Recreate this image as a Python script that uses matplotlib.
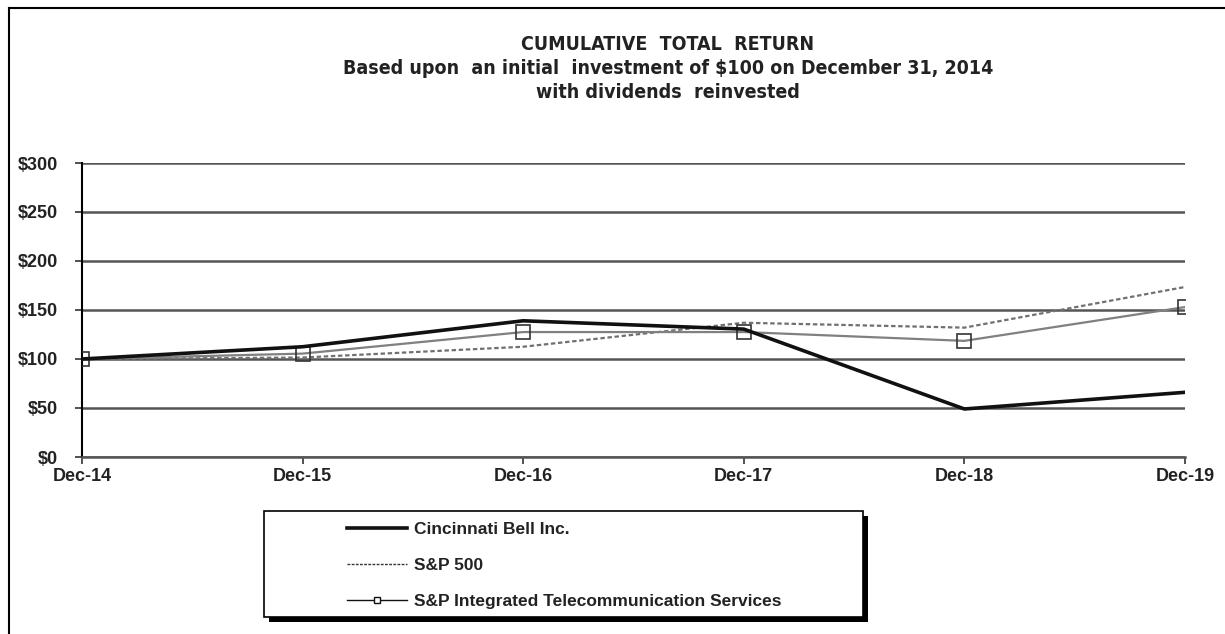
import matplotlib
matplotlib.use("Agg")
import matplotlib.pyplot as plt
from matplotlib.lines import Line2D
from matplotlib.patches import Rectangle

plt.rcParams['font.family'] = ['Liberation Sans', 'DejaVu Sans']

# data
years = ['Dec-14', 'Dec-15', 'Dec-16', 'Dec-17', 'Dec-18', 'Dec-19']
cinci_bell = [100, 112.5, 139, 130.5, 49, 66]
sp500 = [100, 101.5, 112.5, 137, 132, 173.5]
sp_telecom = [100, 105.5, 127.5, 127.5, 118.5, 153]
y_ticks = [0, 50, 100, 150, 200, 250, 300]
y_labels = ['$0', '$50', '$100', '$150', '$200', '$250', '$300']

W, H = 1225, 634
fig = plt.figure(figsize=(W / 100, H / 100), dpi=100)

# outer frame (top and left edges visible in the original)
fig.add_artist(Line2D([9 / W, 1.0], [1 - 8 / H, 1 - 8 / H], color='black', lw=1.5))
fig.add_artist(Line2D([9 / W, 9 / W], [0.0, 1 - 8 / H], color='black', lw=1.5))

ax = fig.add_axes([82 / W, 1 - 457 / H, (1185 - 82) / W, (457 - 163) / H])
x = list(range(len(years)))

ax.plot(x, sp500, color='#707070', lw=1.6, ls=(0, (2, 1.2)), zorder=3)
ax.plot(x, sp_telecom, color='#808080', lw=1.6, marker='s', markersize=10,
        markerfacecolor='none', markeredgecolor='#333333', markeredgewidth=1.2, zorder=4)
ax.plot(x, cinci_bell, color='#111111', lw=2.6, zorder=5)

ax.set_xlim(0, len(years) - 1)
ax.set_ylim(0, 300)
ax.set_xticks(x)
ax.set_xticklabels(years, fontsize=13, fontweight='bold', color='#222222')
ax.set_yticks(y_ticks)
ax.set_yticklabels(y_labels, fontsize=13, fontweight='bold', color='#222222')
ax.tick_params(axis='y', length=5, width=1.2, pad=12, color='#333333')
ax.tick_params(axis='x', length=5, width=1.2, pad=3, color='#333333')
ax.yaxis.grid(True, color='#555555', lw=1.8)
ax.set_axisbelow(True)
for s in ['top', 'right']:
    ax.spines[s].set_visible(False)
ax.spines['left'].set_color('black')
ax.spines['left'].set_linewidth(1.5)
ax.spines['bottom'].set_color('#555555')
ax.spines['bottom'].set_linewidth(1.8)

# title block
title_kw = dict(ha='center', va='center', fontsize=14, fontweight='bold',
                family='DejaVu Sans', fontstretch='condensed', color='#222222')
fig.text(668 / W, 1 - 45 / H, 'CUMULATIVE  TOTAL  RETURN', **title_kw)
fig.text(668 / W, 1 - 69 / H, 'Based upon  an initial  investment of $100 on December 31, 2014', **title_kw)
fig.text(668 / W, 1 - 93 / H, 'with dividends  reinvested', **title_kw)

# legend box with shadow
bx0, by0, bx1, by1 = 264, 511, 863, 617
fig.add_artist(Rectangle(((bx0 + 5) / W, 1 - (by1 + 5) / H), (bx1 - bx0) / W, (by1 - by0) / H,
                         facecolor='black', edgecolor='black', lw=0))
fig.add_artist(Rectangle((bx0 / W, 1 - by1 / H), (bx1 - bx0) / W, (by1 - by0) / H,
                         facecolor='white', edgecolor='black', lw=1.2))

handles = [
    Line2D([], [], color='#111111', lw=2.6),
    Line2D([], [], color='#333333', lw=1.0, ls=(0, (2, 1))),
    Line2D([], [], color='#111111', lw=1.0, marker='s', markersize=5,
           markerfacecolor='white', markeredgecolor='#111111'),
]
labels = ['Cincinnati Bell Inc.', 'S&P 500', 'S&P Integrated Telecommunication Services']
fig.legend(handles, labels, loc='upper left', bbox_to_anchor=(331 / W, 1 - 506 / H),
           frameon=False, handlelength=3.5, handletextpad=0.4, labelspacing=1.2,
           prop={'size': 12.5, 'weight': 'bold'}, labelcolor='#222222')

fig.savefig('out.png', dpi=100)
